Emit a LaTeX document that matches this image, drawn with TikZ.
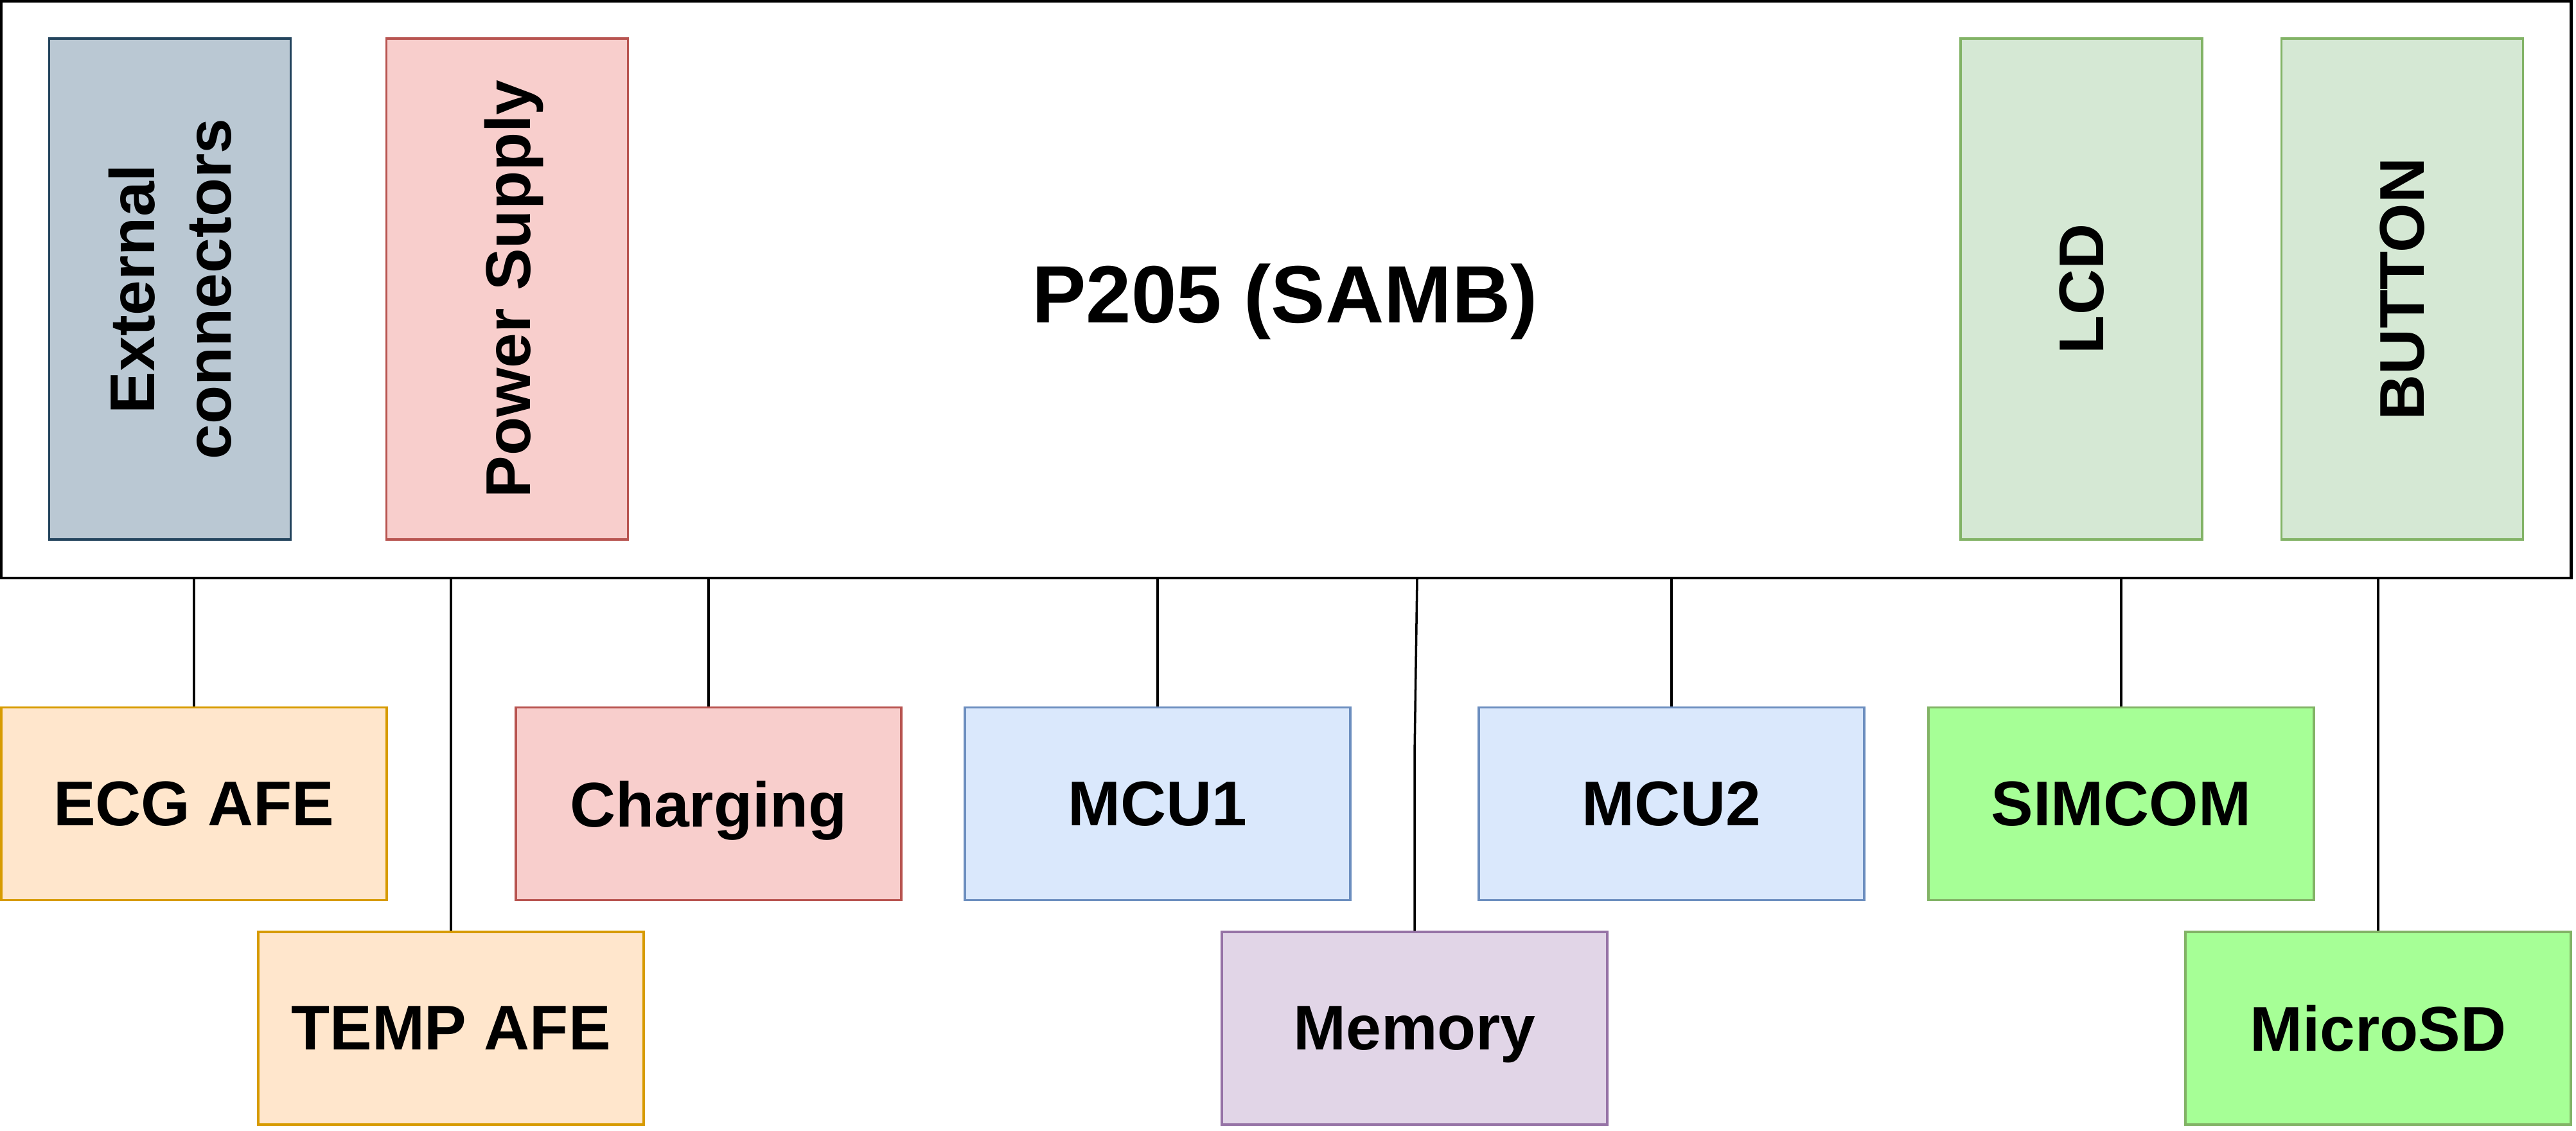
\documentclass[tikz,border=0pt]{standalone}
\usepackage{fontspec}
\setmainfont{Liberation Sans}
\usepackage{tikz}
\usetikzlibrary{positioning}
\definecolor{slateE}{HTML}{23445D}\definecolor{slateF}{HTML}{BAC8D3}
\definecolor{redE}{HTML}{B85450}\definecolor{redF}{HTML}{F8CECC}
\definecolor{grnE}{HTML}{82B366}\definecolor{grnF}{HTML}{D5E8D4}
\definecolor{limeF}{HTML}{A6FF96}
\definecolor{orgE}{HTML}{D79B00}\definecolor{orgF}{HTML}{FFE6CC}
\definecolor{bluE}{HTML}{6C8EBF}\definecolor{bluF}{HTML}{DAE8FC}
\definecolor{prpE}{HTML}{9673A6}\definecolor{prpF}{HTML}{E1D5E7}

\begin{document}
\begin{tikzpicture}[font=\bfseries\fontsize{28}{34}\selectfont,
  blk/.style 2 args={draw=#1,fill=#2,line width=1pt,inner sep=0pt,text depth=0pt,
                     minimum width=6cm,minimum height=3cm},
  tall/.style 2 args={draw=#1,fill=#2,line width=1pt,inner sep=0pt,rotate=90,
                      text depth=0pt,align=center,minimum width=7.8cm,minimum height=3.76cm},
  wire/.style={black,line width=1pt}]
\useasboundingbox (0,0) rectangle (40.1,17.6);
% --- the board and its on-board parts ---
\node[draw,line width=1.4pt,inner sep=0pt,minimum width=40cm,minimum height=8.98cm]
  (samb) at (20.02,13.09) {};
\node[font=\bfseries\fontsize{36}{40}\selectfont] (title) at (20.0,12.9) {P205 (SAMB)};
\node[tall={slateE}{slateF}] (ext) at (2.645,13.1) {External\\connectors};
\node[tall={redE}{redF}]     (psu) at (7.895,13.1) {Power Supply};
\node[tall={grnE}{grnF}]     (lcd) at (32.40,13.1) {LCD};
\node[tall={grnE}{grnF}]     (btn) at (37.395,13.1) {BUTTON};
% --- the modules below the board ---
\foreach \n/\x/\y/\e/\f/\t in {ecg/3.02/5.085/orgE/orgF/ECG AFE,
    temp/7.02/1.59/orgE/orgF/TEMP AFE, chg/11.03/5.085/redE/redF/Charging,
    mcua/18.02/5.085/bluE/bluF/MCU1, mem/22.02/1.59/prpE/prpF/Memory,
    mcub/26.02/5.085/bluE/bluF/MCU2, sim/33.02/5.085/grnE/limeF/SIMCOM,
    sd/37.02/1.59/grnE/limeF/MicroSD}
  \node[blk={\e}{\f}] (\n) at (\x,\y) {\t};
% --- the links up to the board ---
\foreach \n in {ecg,temp,chg,mcua,mcub,sim,sd}
  \draw[wire] (\n.north) -- (\n.north |- samb.south);
\coordinate (membend) at (22.02,5.85);
\coordinate (memtop) at (22.06,8.60);
\draw[wire] (mem.north) -- (membend) -- (memtop);
\end{tikzpicture}
\end{document}
